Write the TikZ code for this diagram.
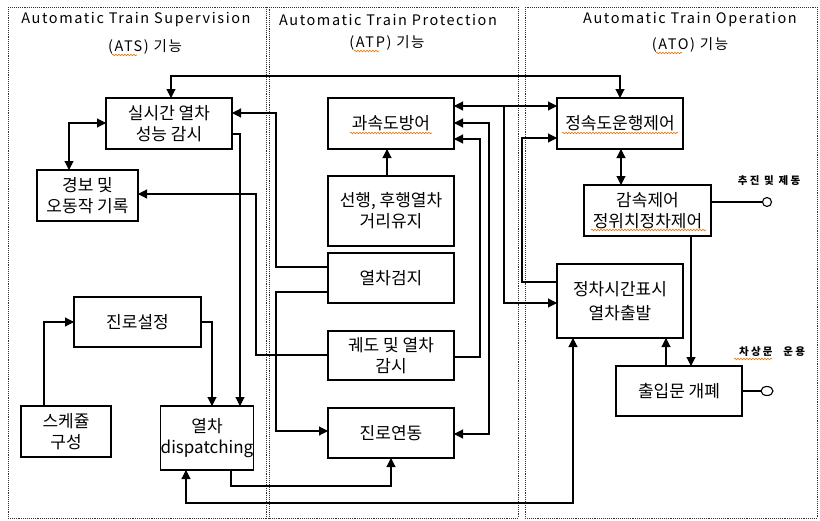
\documentclass[tikz,border=0pt]{standalone}
\usepackage{fontspec}
\setmainfont{Noto Sans CJK KR}
\newfontfamily\ttlfont[LetterSpace=11]{Noto Sans CJK KR}
\newfontfamily\lblfont[LetterSpace=22]{Noto Sans CJK KR}
\usetikzlibrary{arrows.meta,decorations.pathmorphing,shapes.geometric}
\begin{document}
\begin{tikzpicture}[x=1pt,y=-1pt,
  box/.style={draw, line width=1.1pt, inner sep=0pt, outer sep=0pt, align=center,
    font=\fontsize{17}{21}\selectfont},
  con/.style={line width=1.1pt},
  arr/.style={con, -{Triangle[length=9pt,width=9pt]}},
  darr/.style={con, {Triangle[length=9pt,width=9pt]}-{Triangle[length=9pt,width=9pt]}},
  col/.style={densely dotted, line width=0.9pt, draw=black!80},
  ttl/.style={inner sep=0pt, font=\ttlfont\fontsize{14.5}{17}\selectfont},
  small/.style={inner sep=0pt, font=\lblfont\bfseries\fontsize{10.5}{12}\selectfont},
  term/.style={draw, line width=1.1pt, fill=white, inner sep=0pt, outer sep=0pt},
  spell/.style={draw=orange!90!black, line width=0.6pt,
    decorate, decoration={snake, amplitude=0.8pt, segment length=3pt}}
]
\useasboundingbox (0,0) rectangle (820,520);

% column frames
\draw[col] (8,7) rectangle (269,518);
\draw[col] (266,7) rectangle (518,518);
\draw[col] (525,7) rectangle (817,518);

% titles
\node[ttl] (t1) at (136,20) {Automatic Train Supervision};
\node[ttl] (t1b) at (145,47) {(ATS) 기능};
\node[ttl] (t2) at (388,20) {Automatic Train Protection};
\node[ttl] (t2b) at (387,43) {(ATP) 기능};
\node[ttl] (t3) at (690,20) {Automatic Train Operation};
\node[ttl] (t3b) at (690,45) {(ATO) 기능};

% boxes
\node[box, minimum width=126pt, minimum height=51pt] (sil) at (169,123.5) {실시간 열차\\성능 감시};
\node[box, minimum width=101pt, minimum height=51pt] (gyeong) at (87.5,195.5) {경보 및\\오동작 기록};
\node[box, minimum width=127pt, minimum height=50pt] (jinro) at (137.5,322) {진로설정};
\node[box, minimum width=90pt, minimum height=51pt] (sked) at (66,431.5) {스케쥴\\구성};
\node[box, minimum width=90pt, minimum height=64pt] (disp) at (207,438) {열차\\dispatching};
\node[box, minimum width=126pt, minimum height=51pt] (gwa) at (391,123.5) {과속도방어};
\node[box, minimum width=126pt, minimum height=70pt] (seon) at (391,211) {선행, 후행열차\\거리유지};
\node[box, minimum width=126pt, minimum height=50pt] (geomji) at (391,278) {열차검지};
\node[box, minimum width=126pt, minimum height=49pt] (gwedo) at (391,355.5) {궤도 및 열차\\감시};
\node[box, minimum width=126pt, minimum height=50pt] (yeon) at (391,433) {진로연동};
\node[box, minimum width=126pt, minimum height=51pt] (jeong) at (620,123.5) {정속도운행제어};
\node[box, minimum width=127pt, minimum height=51pt] (gam) at (647.5,210.5) {감속제어\\정위치정차제어};
\node[box, minimum width=126pt, minimum height=74pt, font=\fontsize{17}{24}\selectfont] (stop) at (620,301) {정차시간표시\\열차출발};
\node[box, minimum width=126pt, minimum height=50pt] (door) at (679,391) {출입문 개폐};

% terminals
\node[term, circle, minimum size=9pt] (c1) at (767,202) {};
\node[term, ellipse, minimum width=12pt, minimum height=9pt] (c2) at (767,391) {};
\node[small] (l1) at (769,181) {추진 및 제동};
\node[small] (l2) at (772,352) {차상문\hspace{6pt} 운용};

% connectors
\draw[darr] (sil.north -| 171,0) -- (171,76) -- (620,76) -- (jeong.north);
\draw[darr] (sil.west |- 0,123) -| (gyeong.north -| 69,0);
\draw[arr] (geomji.west |- 0,267) -| (276,113) -- (sil.east |- 0,113);
\draw[arr] (sil.east |- 0,134) -| (disp.north -| 240,0);
\draw[arr] (gwedo.west |- 0,355) -| (256,194) -- (gyeong.east |- 0,194);
\draw[arr] (jinro.east) -| (disp.north -| 212,0);
\draw[arr] (sked.north -| 44,0) |- (jinro.west);
\draw[arr] (disp.south -| 231,0) |- (391,486) -- (yeon.south);
\draw[arr] (geomji.west |- 0,292) -| (276,431) -- (yeon.west |- 0,431);
\draw[arr] (seon.north -| 387,0) -- (gwa.south -| 387,0);
\draw[darr] (gwa.east |- 0,106) -- (jeong.west |- 0,106);
\coordinate (br) at (504,106);
\draw[arr] (br) |- (stop.west |- 0,303);
\draw[darr] (gwa.east |- 0,123) -| (489,434) -- (yeon.east |- 0,434);
\draw[arr] (gwedo.east |- 0,357) -| (480,139) -- (gwa.east |- 0,139);
\draw[arr] (stop.west |- 0,282) -| (522,138) -- (jeong.west |- 0,138);
\draw[darr] (jeong.south -| 621,0) -- (gam.north -| 621,0);
\draw[arr] (gam.south -| 691,0) -- (door.north -| 691,0);
\draw[arr] (door.north -| 666,0) -- (stop.south -| 666,0);
\draw[darr] (disp.south -| 186,0) |- (573,503) -- (stop.south -| 573,0);
\draw[con] (gam.east |- 0,202) -- (c1.west);
\draw[con] (door.east) -- (c2.west);

% spell-check underlines
\draw[spell] (112,55) -- (137,55);
\draw[spell] (354,51) -- (379,51);
\draw[spell] (656,53) -- (682,53);
\draw[spell] (350,133) -- (432,133);
\draw[spell] (562,133) -- (678,133);
\draw[spell] (591,230) -- (706,230);
\draw[spell] (734,359) -- (772,359);
\end{tikzpicture}
\end{document}
